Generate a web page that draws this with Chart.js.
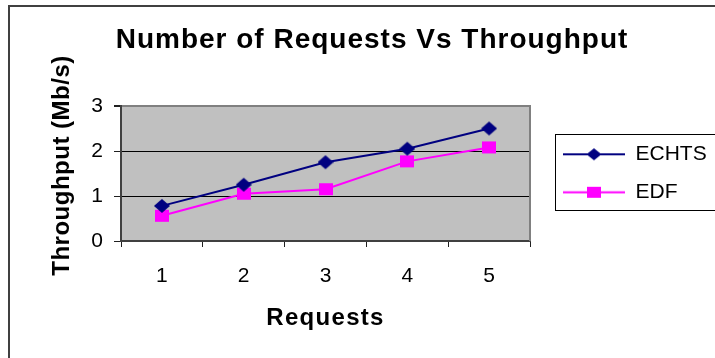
<!DOCTYPE html>
<html>
<head>
<meta charset="utf-8">
<title>Number of Requests Vs Throughput</title>
<script src="https://cdn.jsdelivr.net/npm/chart.js@4/dist/chart.umd.min.js"></script>
<style>
  html, body { margin: 0; padding: 0; background: #fff; width: 715px; height: 358px; overflow: hidden; }
  #frame { position: absolute; left: 8px; top: 5px; width: 800px; height: 400px;
           border-left: 2px solid #404040; border-top: 2px solid #404040; box-sizing: border-box; }
  #chart { position: absolute; left: 0; top: 0; }
</style>
</head>
<body>
<div id="frame"></div>
<canvas id="chart" width="744" height="358"></canvas>
<script>
// Data
const requests = ['1', '2', '3', '4', '5'];
const echtsThroughput = [0.78, 1.25, 1.75, 2.05, 2.5];
const edfThroughput = [0.56, 1.05, 1.15, 1.77, 2.08];
const yTickValues = [0, 1, 2, 3];
const seriesNames = ['ECHTS', 'EDF'];

const FONT = 'Arial, "Liberation Sans", sans-serif';
Chart.defaults.font.family = FONT;
Chart.defaults.color = '#000';

const NAVY = '#000080';
const MAGENTA = '#ff00ff';

// Marker bitmaps (diamond / square), optionally with a line through them for the legend key
function marker(shape, color, hw, hh, lineLen) {
  const w = lineLen || Math.ceil(hw * 2);
  const h = Math.ceil(hh * 2) + 2;
  const cv = document.createElement('canvas');
  cv.width = w; cv.height = h;
  const g = cv.getContext('2d');
  const cx = w / 2, cy = h / 2;
  g.fillStyle = color; g.strokeStyle = color;
  if (lineLen) {
    g.lineWidth = 2;
    g.beginPath(); g.moveTo(0, cy); g.lineTo(w, cy); g.stroke();
  }
  if (shape === 'diamond') {
    g.beginPath();
    g.moveTo(cx, cy - hh); g.lineTo(cx + hw, cy); g.lineTo(cx, cy + hh); g.lineTo(cx - hw, cy);
    g.closePath(); g.fill();
  } else {
    g.fillRect(cx - hw, cy - hh, hw * 2, hh * 2);
  }
  return cv;
}

const pointImgs = [marker('diamond', NAVY, 8, 7), marker('square', MAGENTA, 7, 6)];
const legendKeys = [marker('diamond', NAVY, 7.5, 6, 62), marker('square', MAGENTA, 7, 5.5, 62)];

const PLOT_RIGHT = 530;
const LEGEND_BOX = { left: 555, top: 134, bottom: 210 };

// Draw a text-bearing element with extra tracking (and an optional vertical nudge)
function withTracking(obj, method, spacing, dy) {
  if (!obj || obj['_tracked_' + method]) return;
  const orig = obj[method];
  obj[method] = function (...args) {
    const ctx = this.ctx;
    ctx.save();
    ctx.letterSpacing = spacing;
    if (dy) ctx.translate(0, dy);
    const r = orig.apply(this, args);
    ctx.restore();
    return r;
  };
  obj['_tracked_' + method] = true;
}

const chartDecor = {
  id: 'chartDecor',
  beforeLayout(chart) {
    const lg = chart.legend;
    if (lg && !lg._fixedWidth) {
      const fit = lg.fit;
      lg.fit = function () { fit.call(this); this.width = this.chart.width - PLOT_RIGHT; };
      lg._fixedWidth = true;
    }
  },
  afterLayout(chart) {
    withTracking(chart.titleBlock, 'draw', '1px');
    withTracking(chart.scales.x, 'drawTitle', '1.3px');
    withTracking(chart.scales.y, 'drawTitle', '0.5px', -8);
    const lg = chart.legend;
    if (!lg) return;
    const pad = lg.options.labels.padding;
    lg.left = 563 - pad;
    lg.top = 126.8;
    lg.right = chart.width;
    lg.bottom = 240;
    lg.width = lg.right - lg.left;
    lg.height = lg.bottom - lg.top;
  },
  beforeDraw(chart) {
    const { ctx, chartArea: a } = chart;
    ctx.save();
    ctx.fillStyle = '#c0c0c0';
    ctx.fillRect(a.left, a.top, a.right - a.left, a.bottom - a.top);
    ctx.restore();
  },
  afterDraw(chart) {
    const { ctx, chartArea: a } = chart;
    ctx.save();
    ctx.strokeStyle = '#808080';
    ctx.lineWidth = 2;
    ctx.beginPath(); ctx.moveTo(a.right, a.top - 1); ctx.lineTo(a.right, a.bottom); ctx.stroke();
    ctx.strokeStyle = '#000';
    ctx.lineWidth = 1;
    ctx.strokeRect(LEGEND_BOX.left + 0.5, LEGEND_BOX.top + 0.5, 300, LEGEND_BOX.bottom - LEGEND_BOX.top);
    ctx.restore();
  }
};

new Chart(document.getElementById('chart'), {
  type: 'line',
  data: {
    labels: requests,
    datasets: [
      { label: seriesNames[0], data: echtsThroughput, borderColor: NAVY, backgroundColor: NAVY,
        borderWidth: 2, pointStyle: pointImgs[0], pointRadius: 8, pointHoverRadius: 8, tension: 0 },
      { label: seriesNames[1], data: edfThroughput, borderColor: MAGENTA, backgroundColor: MAGENTA,
        borderWidth: 2, pointStyle: pointImgs[1], pointRadius: 7, pointHoverRadius: 7, tension: 0 }
    ]
  },
  options: {
    responsive: false,
    animation: false,
    devicePixelRatio: 1,
    layout: { padding: 0 },
    plugins: {
      title: {
        display: true,
        text: 'Number of Requests Vs Throughput',
        color: '#000',
        font: { size: 28, weight: 'bold' },
        padding: { top: 23, bottom: 106 - 23 - 28 * 1.2 }
      },
      legend: {
        display: true,
        position: 'right',
        align: 'start',
        labels: {
          usePointStyle: true,
          pointStyleWidth: 62,
          padding: 17,
          color: '#000',
          font: { size: 21 },
          generateLabels(chart) {
            return chart.data.datasets.map((ds, i) => ({
              text: ds.label, pointStyle: legendKeys[i], fillStyle: ds.borderColor,
              strokeStyle: ds.borderColor, lineWidth: 0, hidden: false, datasetIndex: i, fontColor: '#000'
            }));
          }
        }
      },
      tooltip: { enabled: false }
    },
    scales: {
      x: {
        type: 'category',
        offset: true,
        grid: { display: true, offset: true, drawOnChartArea: false, drawTicks: true, tickLength: 6, color: '#202020', lineWidth: 1 },
        border: { display: true, color: '#404040', width: 2 },
        ticks: { padding: 17, maxRotation: 0, color: '#000', font: { size: 21 } },
        title: { display: true, text: 'Requests', color: '#000', font: { size: 24, weight: 'bold' }, padding: { top: 0, bottom: 25.6 } },
        afterFit(s) { s.height = 358 - 241; }
      },
      y: {
        min: 0,
        max: 3,
        afterBuildTicks(s) { s.ticks = yTickValues.map(v => ({ value: v })); },
        grid: {
          drawTicks: true, tickLength: 7, tickColor: '#202020',
          color: c => (c.tick && c.tick.value === 3 ? '#808080' : '#000'),
          lineWidth: c => (c.tick && c.tick.value === 3 ? 2 : 1)
        },
        border: { display: true, color: '#404040', width: 2 },
        ticks: { padding: 11, color: '#000', font: { size: 21 } },
        title: { display: true, text: 'Throughput (Mb/s)', color: '#000', font: { size: 24, weight: 'bold' }, padding: { top: 47.6, bottom: 0 } },
        afterFit(s) { s.width = 121; }
      }
    }
  },
  plugins: [chartDecor]
});
</script>
</body>
</html>
